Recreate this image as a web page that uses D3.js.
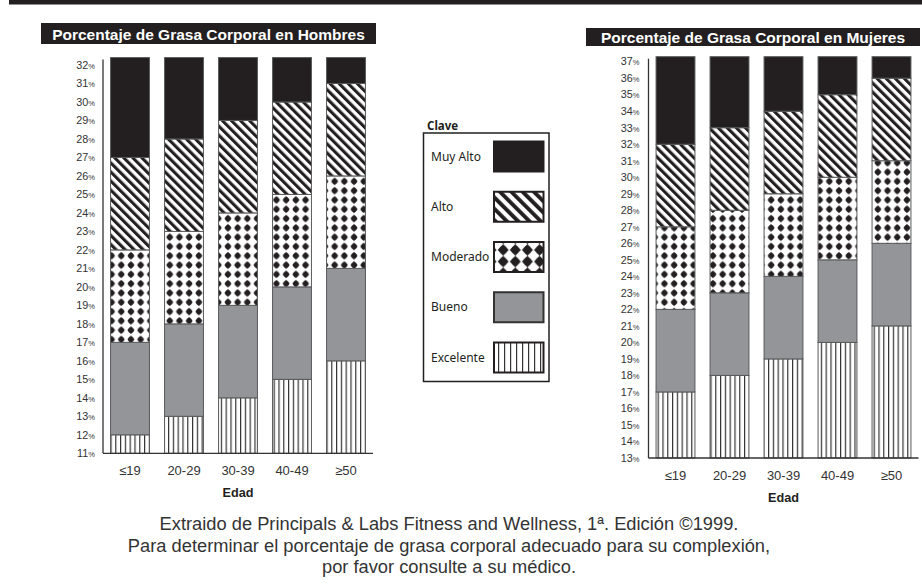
<!DOCTYPE html>
<html>
<head>
<meta charset="utf-8">
<script src="https://cdn.jsdelivr.net/npm/d3@7"></script>
<style>
  body { margin: 0; background: #fff; }
  svg { display: block; }
</style>
</head>
<body>
<script>
// age groups on the x axis (same for both charts)
const ageGroups = ['≤19', '20-29', '30-39', '40-49', '≥50'];
// legend order, top to bottom
const levels = ['Muy Alto', 'Alto', 'Moderado', 'Bueno', 'Excelente'];

// men: upper limit (%) of each level per age group
const menExcelente = [12, 13, 14, 15, 16];
const menBueno = [17, 18, 19, 20, 21];
const menModerado = [22, 23, 24, 25, 26];
const menAlto = [27, 28, 29, 30, 31];
const menTicks = [11, 12, 13, 14, 15, 16, 17, 18, 19, 20, 21, 22, 23, 24, 25, 26, 27, 28, 29, 30, 31, 32];
const menRange = [11, 32.4];

// women
const womenExcelente = [17, 18, 19, 20, 21];
const womenBueno = [22, 23, 24, 25, 26];
const womenModerado = [27, 28, 29, 30, 31];
const womenAlto = [32, 33, 34, 35, 36];
const womenTicks = [13, 14, 15, 16, 17, 18, 19, 20, 21, 22, 23, 24, 25, 26, 27, 28, 29, 30, 31, 32, 33, 34, 35, 36, 37];
const womenRange = [13, 37.3];

const footnote = [
  'Extraido de Principals & Labs Fitness and Wellness, 1ª. Edición ©1999.',
  'Para determinar el porcentaje de grasa corporal adecuado para su complexión,',
  'por favor consulte a su médico.'
];

const BLACK = '#231f20';
const GRAY = '#939598';
const EDGE = '#58595b';
const ARIAL = '"Liberation Sans", Arial, Helvetica, sans-serif';

const svg = d3.select('body').append('svg')
  .attr('width', 922)
  .attr('height', 588);

const defs = svg.append('defs');

function addPatterns(suffix, k, dia) {
  // diagonal stripes "\"
  const alto = defs.append('pattern')
    .attr('id', 'alto' + suffix)
    .attr('patternUnits', 'userSpaceOnUse')
    .attr('width', 6.4 * k).attr('height', 6.4 * k)
    .attr('patternTransform', 'rotate(-45)');
  alto.append('rect').attr('width', 6.4 * k).attr('height', 6.4 * k).attr('fill', '#fff');
  alto.append('rect').attr('width', 3.1 * k).attr('height', 6.4 * k).attr('fill', BLACK);

  // black diamonds on white
  const w = 9.7 * k, h = 9.3 * k;
  const mod = defs.append('pattern')
    .attr('id', 'moderado' + suffix)
    .attr('patternUnits', 'userSpaceOnUse')
    .attr('width', w).attr('height', h);
  mod.append('rect').attr('width', w).attr('height', h).attr('fill', '#fff');
  const cx = w / 2, cy = h / 2;
  mod.append('path')
    .attr('fill', BLACK)
    .attr('d', `M${cx},${cy - dia[1] * k} L${cx + dia[0] * k},${cy} L${cx},${cy + dia[1] * k} L${cx - dia[0] * k},${cy} Z`);
  mod.append('circle').attr('cx', cx).attr('cy', cy).attr('r', dia[2] * k).attr('fill', BLACK);

  // vertical lines
  const exc = defs.append('pattern')
    .attr('id', 'excelente' + suffix)
    .attr('patternUnits', 'userSpaceOnUse')
    .attr('width', 4.8 * k).attr('height', 10);
  exc.append('rect').attr('width', 4.8 * k).attr('height', 10).attr('fill', '#fff');
  exc.append('rect').attr('x', 0).attr('width', 1.2).attr('height', 10).attr('fill', '#333');
}
addPatterns('', 1, [3.6, 4, 2.7]);
addPatterns('Key', 1.25, [4.4, 4.6, 3.2]);

const fills = {
  'Muy Alto': BLACK,
  'Alto': 'url(#alto)',
  'Moderado': 'url(#moderado)',
  'Bueno': GRAY,
  'Excelente': 'url(#excelente)'
};

// thin black band across the top
svg.append('rect')
  .attr('x', 9).attr('y', 0)
  .attr('width', 913).attr('height', 4.5)
  .attr('fill', BLACK);

function drawChart(opts) {
  const g = svg.append('g');
  const y = d3.scaleLinear().domain(opts.range).range([opts.bottom, opts.top]);
  const x = d3.scaleBand().domain(ageGroups)
    .range([opts.left, opts.left + 270])
    .paddingInner(0.28).paddingOuter(0.14);

  // title box
  g.append('rect')
    .attr('x', opts.titleBox[0]).attr('y', opts.titleBox[1])
    .attr('width', opts.titleBox[2]).attr('height', opts.titleBox[3])
    .attr('fill', BLACK);
  g.append('text')
    .attr('x', opts.titleBox[0] + opts.titleBox[2] / 2)
    .attr('y', opts.titleY)
    .attr('text-anchor', 'middle')
    .attr('font-family', ARIAL)
    .attr('font-weight', 'bold')
    .attr('font-size', 15.5)
    .attr('fill', '#fff')
    .text(opts.title);

  // stacked segments: [start, end] for each level
  const stacks = ageGroups.map((age, i) => {
    const b = opts.bounds.map(arr => arr[i]);
    return [
      { level: 'Excelente', y0: opts.range[0], y1: b[0] },
      { level: 'Bueno', y0: b[0], y1: b[1] },
      { level: 'Moderado', y0: b[1], y1: b[2] },
      { level: 'Alto', y0: b[2], y1: b[3] },
      { level: 'Muy Alto', y0: b[3], y1: opts.range[1] }
    ].map(s => Object.assign({ age: age }, s));
  });

  g.selectAll('.bar')
    .data(stacks)
    .enter()
    .append('g')
    .attr('class', 'bar')
    .selectAll('rect')
    .data(d => d)
    .enter()
    .append('rect')
    .attr('x', d => x(d.age))
    .attr('y', d => y(d.y1))
    .attr('width', x.bandwidth())
    .attr('height', d => y(d.y0) - y(d.y1))
    .attr('fill', d => fills[d.level])
    .attr('stroke', EDGE)
    .attr('stroke-width', 1);

  // axis lines
  g.append('line')
    .attr('x1', opts.left).attr('x2', opts.left)
    .attr('y1', y(opts.range[1]) + 2).attr('y2', opts.bottom)
    .attr('stroke', '#333').attr('stroke-width', 1.3);
  g.append('line')
    .attr('x1', opts.left).attr('x2', opts.left + opts.baseLen)
    .attr('y1', opts.bottom).attr('y2', opts.bottom)
    .attr('stroke', '#333').attr('stroke-width', 1.3);

  // y tick labels with a small %
  const tick = g.selectAll('.tick')
    .data(opts.ticks)
    .enter()
    .append('text')
    .attr('class', 'tick')
    .attr('x', opts.left - opts.labelGap)
    .attr('y', d => y(d) + 3.8)
    .attr('text-anchor', 'end')
    .attr('font-family', ARIAL)
    .attr('font-size', 10.8)
    .attr('fill', '#333')
    .text(d => d);
  tick.append('tspan')
    .attr('font-size', 7.5)
    .text('%');

  // age labels
  g.selectAll('.age')
    .data(ageGroups)
    .enter()
    .append('text')
    .attr('class', 'age')
    .attr('x', d => x(d) + x.bandwidth() / 2)
    .attr('y', opts.ageY)
    .attr('text-anchor', 'middle')
    .attr('font-family', ARIAL)
    .attr('font-size', 13)
    .attr('fill', '#333')
    .text(d => d);

  g.append('text')
    .attr('x', x(ageGroups[2]) + x.bandwidth() / 2)
    .attr('y', opts.ageY + 22)
    .attr('text-anchor', 'middle')
    .attr('font-family', ARIAL)
    .attr('font-weight', 'bold')
    .attr('font-size', 12.7)
    .attr('fill', BLACK)
    .text('Edad');
}

drawChart({
  title: 'Porcentaje de Grasa Corporal en Hombres',
  titleBox: [41, 23, 335, 21],
  titleY: 39.5,
  bounds: [menExcelente, menBueno, menModerado, menAlto],
  ticks: menTicks,
  range: menRange,
  left: 103,
  top: 57.6,
  bottom: 453.3,
  baseLen: 270,
  labelGap: 8,
  ageY: 474.5
});

drawChart({
  title: 'Porcentaje de Grasa Corporal en Mujeres',
  titleBox: [586, 28, 334, 18],
  titleY: 43,
  bounds: [womenExcelente, womenBueno, womenModerado, womenAlto],
  ticks: womenTicks,
  range: womenRange,
  left: 648.5,
  top: 56.7,
  bottom: 458,
  baseLen: 270,
  labelGap: 9,
  ageY: 479.5
});

// legend ("Clave")
const key = svg.append('g');
key.append('text')
  .attr('x', 427).attr('y', 129.5)
  .attr('font-family', '"Noto Sans", sans-serif')
  .attr('font-weight', 'bold')
  .attr('font-size', 11.5)
  .attr('fill', BLACK)
  .text('Clave');
key.append('rect')
  .attr('x', 423.5).attr('y', 133)
  .attr('width', 125.5).attr('height', 248.5)
  .attr('fill', 'none')
  .attr('stroke', BLACK)
  .attr('stroke-width', 1.5);

const keyY = d3.scalePoint().domain(levels).range([156.5, 357.5]);
const keyFills = {
  'Muy Alto': BLACK,
  'Alto': 'url(#altoKey)',
  'Moderado': 'url(#moderadoKey)',
  'Bueno': GRAY,
  'Excelente': 'url(#excelenteKey)'
};
const row = key.selectAll('.row')
  .data(levels)
  .enter()
  .append('g')
  .attr('class', 'row');
row.append('rect')
  .attr('x', 494).attr('y', d => keyY(d) - 15)
  .attr('width', 49.5).attr('height', 30)
  .attr('fill', d => keyFills[d])
  .attr('stroke', d => d === 'Bueno' ? '#333' : BLACK)
  .attr('stroke-width', 2);
row.append('text')
  .attr('x', 431).attr('y', d => keyY(d) + 4)
  .attr('font-family', '"Noto Sans", sans-serif')
  .attr('font-size', 12)
  .attr('fill', BLACK)
  .text(d => d);

// source note
svg.append('g').selectAll('text')
  .data(footnote)
  .enter()
  .append('text')
  .attr('x', 449)
  .attr('y', (d, i) => 530 + i * 21.5)
  .attr('text-anchor', 'middle')
  .attr('font-family', ARIAL)
  .attr('font-size', 18.3)
  .attr('fill', '#333')
  .text(d => d);
</script>
</body>
</html>
